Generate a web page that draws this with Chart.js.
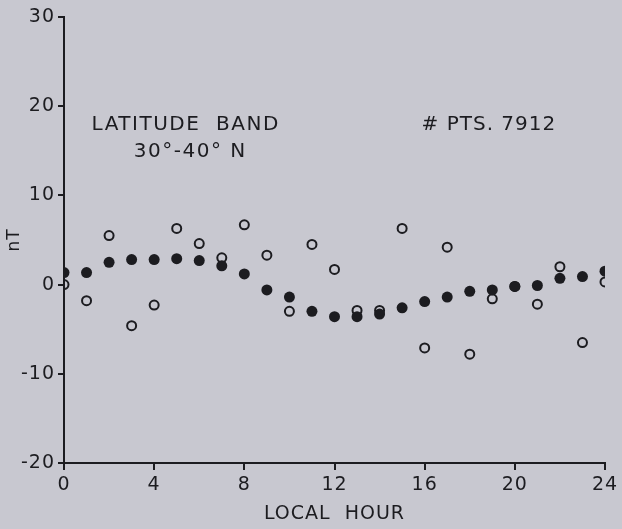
<!DOCTYPE html>
<html>
<head>
<meta charset="utf-8">
<script src="https://cdn.jsdelivr.net/npm/chart.js@4/dist/chart.umd.min.js"></script>
<style>
  html, body { margin: 0; padding: 0; background: #c8c8d0; }
  #wrap { width: 622px; height: 529px; }
</style>
</head>
<body>
<div id="wrap"><canvas id="c" width="622" height="529"></canvas></div>
<script>
// Local hour (0-24)
const hours = [0,1,2,3,4,5,6,7,8,9,10,11,12,13,14,15,16,17,18,19,20,21,22,23,24];
// Hourly values, nT (open circles)
const hourlyValues = [0.0,-1.8,5.5,-4.6,-2.3,6.3,4.6,3.0,6.7,3.3,-3.0,4.5,1.7,-2.9,-2.9,6.3,-7.1,4.2,-7.8,-1.6,-0.2,-2.2,2.0,-6.5,0.3];
// Smoothed values, nT (filled circles)
const smoothValues = [1.35,1.35,2.5,2.8,2.8,2.9,2.7,2.1,1.2,-0.6,-1.4,-3.0,-3.6,-3.6,-3.3,-2.6,-1.9,-1.4,-0.75,-0.6,-0.2,-0.1,0.7,0.9,1.5];
const xTicks = [0,4,8,12,16,20,24];
const yTicks = [-20,-10,0,10,20,30];

const ink = '#1c1c20';
const fontFamily = '"DejaVu Sans", sans-serif';

const toPoints = (vals) => hours.map((h, i) => ({ x: h, y: vals[i] }));

// Text notes placed in data coordinates
const notes = [
  { text: 'LATITUDE  BAND', x: 5.4, y: 17.9, spacing: '1.5px' },
  { text: '30°-40° N', x: 5.6, y: 14.9, spacing: '1.5px' },
  { text: '# PTS. 7912', x: 18.85, y: 17.9, spacing: '1px' }
];

// Paint the page tone and widen letter spacing for all canvas text
const background = {
  id: 'background',
  beforeDraw(chart) {
    const ctx = chart.ctx;
    ctx.fillStyle = '#c8c8d0';
    ctx.fillRect(0, 0, chart.width, chart.height);
    ctx.letterSpacing = '1px';
  }
};

const noteText = {
  id: 'noteText',
  afterDraw(chart) {
    const ctx = chart.ctx;
    const xs = chart.scales.x, ys = chart.scales.y;
    ctx.save();
    ctx.fillStyle = ink;
    ctx.font = '20px ' + fontFamily;
    ctx.textAlign = 'center';
    ctx.textBaseline = 'middle';
    notes.forEach(n => {
      ctx.letterSpacing = n.spacing;
      ctx.fillText(n.text, xs.getPixelForValue(n.x), ys.getPixelForValue(n.y));
    });
    ctx.restore();
  }
};

new Chart(document.getElementById('c'), {
  type: 'scatter',
  data: {
    datasets: [
      {
        label: 'hourly',
        data: toPoints(hourlyValues),
        pointRadius: 4.5,
        pointBorderWidth: 2,
        pointBackgroundColor: 'rgba(0,0,0,0)',
        pointBorderColor: ink,
        order: 2
      },
      {
        label: 'smoothed',
        data: toPoints(smoothValues),
        pointRadius: 5.5,
        pointBorderWidth: 0,
        pointBackgroundColor: ink,
        pointBorderColor: ink,
        order: 1
      }
    ]
  },
  options: {
    responsive: false,
    animation: false,
    events: [],
    layout: { padding: { left: 0, top: 17, right: 17, bottom: 0 } },
    plugins: { legend: { display: false }, tooltip: { enabled: false } },
    scales: {
      x: {
        type: 'linear',
        min: 0, max: 24,
        afterBuildTicks: (s) => { s.ticks = xTicks.map(v => ({ value: v })); },
        afterFit: (s) => { s.height = 66; },
        border: { display: true, color: ink, width: 2 },
        grid: { drawOnChartArea: false, drawTicks: true, tickLength: 7, color: ink, lineWidth: 2 },
        ticks: { color: ink, font: { family: fontFamily, size: 19 }, padding: 4, maxRotation: 0 },
        title: { display: true, text: 'LOCAL  HOUR', color: ink, font: { family: fontFamily, size: 19 }, padding: { top: 0, bottom: 4 } }
      },
      y: {
        type: 'linear',
        min: -20, max: 30,
        afterBuildTicks: (s) => { s.ticks = yTicks.map(v => ({ value: v })); },
        afterFit: (s) => { s.width = 64; },
        border: { display: true, color: ink, width: 2 },
        grid: { drawOnChartArea: false, drawTicks: true, tickLength: 6, color: ink, lineWidth: 2 },
        ticks: { color: ink, font: { family: fontFamily, size: 19 }, padding: 3 },
        title: { display: true, text: 'nT', color: ink, font: { family: fontFamily, size: 17 }, padding: { top: 4, bottom: 4 } }
      }
    }
  },
  plugins: [background, noteText]
});
</script>
</body>
</html>
